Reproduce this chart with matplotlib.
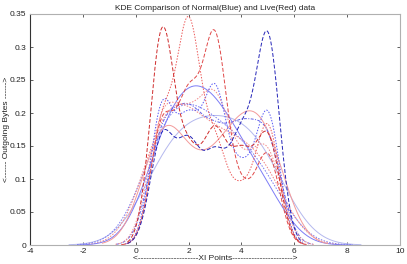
import numpy as np
import matplotlib
matplotlib.use("Agg")
import matplotlib.pyplot as plt
import seaborn as sns

# ---- data: sample values and their counts (weights) for each KDE curve ----
sample_values = [1, 2, 3, 4, 5]

live_dashed_a = [36, 14, 18, 14, 18]
live_dotted_a = [20, 36, 16, 8, 20]
live_dashed_b = [20, 23, 34, 8, 15]
live_dotted_b = [24, 20, 26, 12, 18]
live_dotted_c = [30, 20, 18, 16, 16]
live_dashdot = [30, 10, 14, 22, 24]

normal_dashed_a = [18, 16, 14, 17, 35]
normal_dotted_a = [23, 19, 25, 11, 22]
normal_solid = [22, 27, 25, 15, 11]
normal_dashdot = [21, 22, 18, 19, 20]
normal_light = [20, 20, 20, 20, 20]
normal_dotted_b = [28, 22, 20, 16, 14]

x_ticks = [-4, -2, 0, 2, 4, 6, 8, 10]
y_ticks = [0, 0.05, 0.1, 0.15, 0.2, 0.25, 0.3, 0.35]
y_tick_labels = ["0", "0.05", "0.1", "0.15", "0.2", "0.25", "0.3", "0.35"]

# ---- styles (bandwidth, colour, linestyle) ----
curves = [
    (normal_light, 1.1, "#b4b8ee", "-"),
    (normal_dotted_b, 1.0, "#7878f0", (0, (1.5, 1.5))),
    (live_dotted_c, 0.9, "#f08080", (0, (1.5, 1.5))),
    (normal_solid, 0.9, "#7c7cf6", "-"),
    (live_dashdot, 0.8, "#f39a9a", "-"),
    (normal_dashdot, 0.55, "#6060e8", (0, (3, 1.5, 1, 1.5))),
    (live_dotted_b, 0.55, "#f28a8a", (0, (1.5, 1.5))),
    (normal_dotted_a, 0.45, "#5a5af5", (0, (1.5, 1.5))),
    (live_dashed_b, 0.45, "#e04848", (0, (4, 2))),
    (live_dotted_a, 0.45, "#ec5a5a", (0, (1.5, 1.5))),
    (live_dashed_a, 0.45, "#cf2a2a", (0, (4, 2))),
    (normal_dashed_a, 0.45, "#2424b8", (0, (4, 2))),
]

plt.rcParams["font.family"] = ["Liberation Sans", "DejaVu Sans"]
fig = plt.figure(figsize=(4.07, 2.64), dpi=100)
ax = fig.add_axes([30 / 407, 1 - 245 / 264, 370 / 407, 231 / 264])

vals = np.array(sample_values, dtype=float)
for counts, h, col, ls in curves:
    w = np.array(counts, dtype=float)
    sd = np.sqrt(np.cov(vals, aweights=w))
    sns.kdeplot(x=vals, weights=w, bw_method=h / sd, cut=3.2, gridsize=300,
                ax=ax, color=col, linestyle=ls, linewidth=0.7)

ax.set_xlim(-4, 10)
ax.set_ylim(0, 0.35)
ax.set_xticks(x_ticks)
ax.set_xticklabels([str(t) for t in x_ticks])
ax.set_yticks(y_ticks)
ax.set_yticklabels(y_tick_labels)
ax.tick_params(direction="in", length=2, width=0.6, labelsize=6,
               top=True, right=True, colors="#444444", labelcolor="#222222")
ax.tick_params(axis="x", pad=2.5)
ax.tick_params(axis="y", pad=2.5)
for side in ["top", "right", "bottom"]:
    ax.spines[side].set_color("#b0b0b0")
    ax.spines[side].set_linewidth(0.8)
ax.spines["left"].set_color("#333333")
ax.spines["left"].set_linewidth(0.8)

ax.set_title("KDE Comparison of Normal(Blue) and Live(Red) data", fontsize=6,
             pad=3, color="#222222")
ax.set_xlabel("<----------------------XI Points---------------------->",
              fontsize=6, labelpad=0, color="#222222")
ax.set_ylabel("<------ Outgoing Bytes ------>", fontsize=6, color="#222222")
ax.yaxis.set_label_coords(-0.054, 0.5)

fig.savefig("out.png", dpi=100)
